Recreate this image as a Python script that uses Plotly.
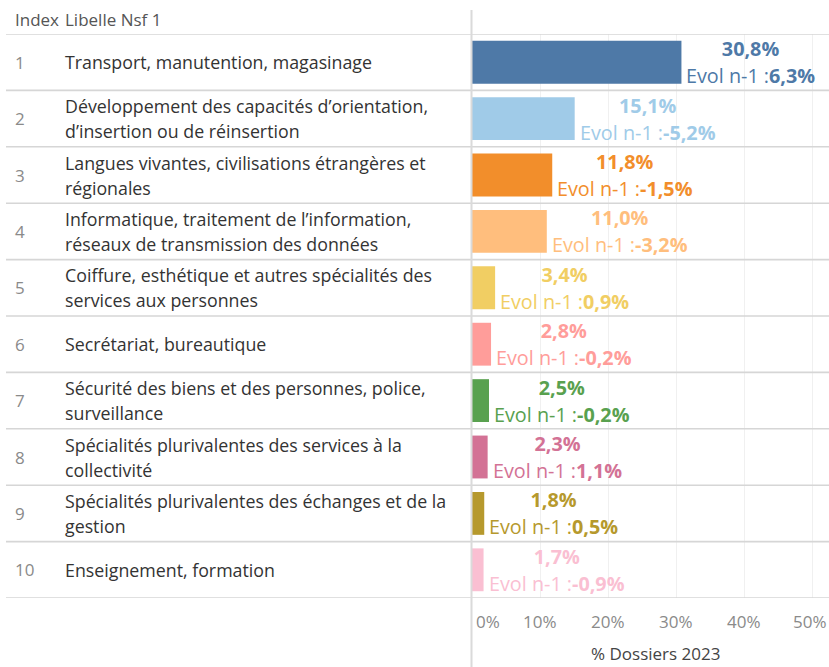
import plotly.graph_objects as go

# ---- data ----
index_vals = [1, 2, 3, 4, 5, 6, 7, 8, 9, 10]
labels = [
    "Transport, manutention, magasinage",
    "Développement des capacités d’orientation,\nd’insertion ou de réinsertion",
    "Langues vivantes, civilisations étrangères et\nrégionales",
    "Informatique, traitement de l’information,\nréseaux de transmission des données",
    "Coiffure, esthétique et autres spécialités des\nservices aux personnes",
    "Secrétariat, bureautique",
    "Sécurité des biens et des personnes, police,\nsurveillance",
    "Spécialités plurivalentes des services à la\ncollectivité",
    "Spécialités plurivalentes des échanges et de la\ngestion",
    "Enseignement, formation",
]
pct_2023 = [30.8, 15.1, 11.8, 11.0, 3.4, 2.8, 2.5, 2.3, 1.8, 1.7]
evol_n1 = [6.3, -5.2, -1.5, -3.2, 0.9, -0.2, -0.2, 1.1, 0.5, -0.9]
colors = ["#4E79A7", "#A0CBE8", "#F28E2B", "#FFBE7D", "#F1CE63",
          "#FF9D9A", "#59A14F", "#D37295", "#B6992D", "#FABFD2"]
tick_vals = [0, 10, 20, 30, 40, 50]
tick_text = ["0%", "10%", "20%", "30%", "40%", "50%"]
header_index = "Index"
header_label = "Libelle Nsf 1"
axis_title = "% Dossiers 2023"

# ---- layout geometry (pixels) ----
W, H = 829, 667
X0 = 472          # left edge of bar panel
TOP = 34          # header line
BOT = 598         # bottom row line
PH = BOT - TOP
FONT = "Open Sans"
LAB_SIZE = 17.8
VAL_SIZE = 19.8


def fmt(v):
    return f"{v:.1f}".replace(".", ",") + "%"


def px_x(p):
    return p / W


def px_y(p):
    return (BOT - p) / PH


fig = go.Figure(go.Bar(
    x=pct_2023, y=index_vals, orientation="h",
    marker=dict(color=colors, line=dict(width=0)),
    width=0.76, hoverinfo="skip",
))

annotations = []
shapes = []

# row separators
for k in range(len(index_vals) + 1):
    shapes.append(dict(type="line", xref="paper", yref="y",
                       x0=px_x(6), x1=1, y0=0.5 + k, y1=0.5 + k,
                       line=dict(color="#d6d6d6", width=1.6), layer="above"))
# vertical separator
shapes.append(dict(type="line", xref="paper", yref="paper",
                   x0=px_x(471.5), x1=px_x(471.5), y0=px_y(667), y1=px_y(10),
                   line=dict(color="#dadada", width=2), layer="above"))

# header
annotations.append(dict(text=header_index, xref="paper", yref="paper",
                        x=px_x(13), y=px_y(20), xanchor="left", yanchor="middle",
                        showarrow=False, font=dict(family=FONT, size=17, color="#555555")))
annotations.append(dict(text=header_label, xref="paper", yref="paper",
                        x=px_x(63), y=px_y(20), xanchor="left", yanchor="middle",
                        showarrow=False, font=dict(family=FONT, size=17, color="#555555")))

for i, lab, p, e, c in zip(index_vals, labels, pct_2023, evol_n1, colors):
    annotations.append(dict(text=str(i), xref="paper", yref="y", x=px_x(13), y=i,
                            xanchor="left", yanchor="middle", showarrow=False,
                            font=dict(family=FONT, size=17, color="#8a8a8a")))
    parts = lab.split("\n")
    offs = [0] if len(parts) == 1 else [12.5, -12.5]
    for t, o in zip(parts, offs):
        annotations.append(dict(text=t, xref="paper", yref="y", x=px_x(63), y=i,
                                yshift=o, xanchor="left", yanchor="middle", showarrow=False,
                                font=dict(family=FONT, size=LAB_SIZE, color="#333333")))
    span = "<span style='font-size:%spx'>" % VAL_SIZE
    txt = (span + "<b>" + fmt(p) + "</b></span><br>" +
           span + "Evol n-1 :<b>" + fmt(e) + "</b></span>")
    annotations.append(dict(
        text=txt, xref="x", yref="y", x=p, y=i, xshift=3, yshift=0, align="center",
        xanchor="left", yanchor="middle", showarrow=False,
        font=dict(family=FONT, size=21, color=c)))

# tick labels
for v, t in zip(tick_vals, tick_text):
    annotations.append(dict(text=t, xref="x", yref="paper", x=v, y=px_y(621),
                            xanchor="left" if v == 0 else "center",
                            xshift=2 if v == 0 else (-2 if v == 50 else 0),
                            yanchor="middle", showarrow=False,
                            font=dict(family=FONT, size=17, color="#8a8a8a")))
annotations.append(dict(text=axis_title, xref="paper", yref="paper",
                        x=px_x(655), y=px_y(653), xanchor="center", yanchor="middle",
                        showarrow=False, font=dict(family=FONT, size=17, color="#444444")))

fig.update_layout(
    width=W, height=H,
    margin=dict(l=0, r=0, t=TOP, b=H - BOT, pad=0),
    paper_bgcolor="white", plot_bgcolor="white",
    showlegend=False,
    xaxis=dict(domain=[X0 / W, 1], range=[0, 52.5], tickvals=tick_vals[1:],
               showticklabels=False, showgrid=True, gridcolor="#f0f0f0", gridwidth=1.2,
               zeroline=False, showline=False, fixedrange=True),
    yaxis=dict(range=[10.5, 0.5], visible=False, fixedrange=True),
    annotations=annotations,
    shapes=shapes,
    font=dict(family=FONT),
)

fig.write_html("out.html", config={"displayModeBar": False},
               post_script="document.body.style.margin='0';")
